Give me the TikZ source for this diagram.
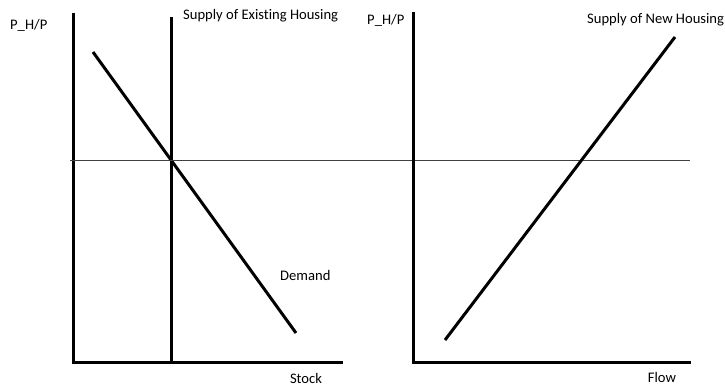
\documentclass[tikz,border=0pt]{standalone}
\usepackage{fontspec}
\setmainfont[Ligatures=NoCommon]{Carlito}
\begin{document}
\begin{tikzpicture}[x=1pt,y=-1pt,
  axis/.style={line width=3pt,line cap=rect},
  curve/.style={line width=3pt},
  guide/.style={line width=1pt,draw=black!75},
  lbl/.style={font=\fontsize{14.6}{17}\selectfont,inner sep=0pt}]
\useasboundingbox (0,0) rectangle (725,386);
% left panel
\coordinate (lt) at (73,14);
\coordinate (lo) at (73,362);
\coordinate (lr) at (341,362);
\draw[axis] (lt) -- (lo) -- (lr);
\coordinate (st) at (171,18);
\coordinate (sb) at (171,362);
\draw[axis] (st) -- (sb);
\coordinate (da) at (93,52);
\coordinate (db) at (296,333);
\draw[curve] (da) -- (db);
% guide line
\coordinate (ga) at (70,160);
\coordinate (gb) at (690,160);
\draw[guide] (ga) -- (gb);
% right panel
\coordinate (rt) at (413,13);
\coordinate (ro) at (413,362);
\coordinate (rr) at (689,362);
\draw[axis] (rt) -- (ro) -- (rr);
\coordinate (na) at (445,340);
\coordinate (nb) at (675,37);
\draw[curve] (na) -- (nb);
% labels
\node[lbl,anchor=west] (yl1) at (10,25) {P\_H/P};
\node[lbl,anchor=west] (yl2) at (367,20) {P\_H/P};
\node[lbl,anchor=west] (sl) at (183,16) {Supply of Existing Housing};
\node[lbl,anchor=west] (nl) at (587,20) {Supply of New Housing};
\node[lbl,anchor=west] (dl) at (280,275) {Demand};
\node[lbl] (xl1) at (306,378) {Stock};
\node[lbl] (xl2) at (662,377) {Flow};
\end{tikzpicture}
\end{document}
